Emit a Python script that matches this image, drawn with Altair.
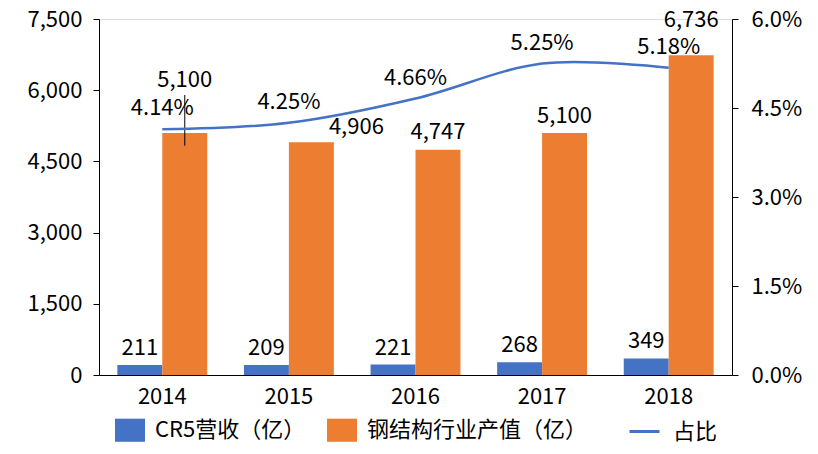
import altair as alt
import pandas as pd

years = ["2014", "2015", "2016", "2017", "2018"]
cr5 = [211, 209, 221, 268, 349]
steel = [5100, 4906, 4747, 5100, 6736]
ratio = [0.0414, 0.0425, 0.0466, 0.0525, 0.0518]

S_CR5 = "CR5营收（亿）"
S_STEEL = "钢结构行业产值（亿）"
S_RATIO = "占比"

FONT = "Noto Sans CJK SC"
FS = 22
BLUE = "#4472C4"
ORANGE = "#ED7D31"

rows = []
for y, a, b in zip(years, cr5, steel):
    rows.append({"year": y, "series": S_CR5, "value": a, "label": f"{a:,}"})
    rows.append({"year": y, "series": S_STEEL, "value": b, "label": f"{b:,}"})
bar_df = pd.DataFrame(rows)

line_df = pd.DataFrame({
    "year": years,
    "ratio": ratio,
    "label": [f"{r * 100:.2f}%" for r in ratio],
    "name": [S_RATIO] * len(years),
})

x_enc = alt.X(
    "year:N",
    sort=years,
    scale=alt.Scale(paddingInner=0.29, paddingOuter=0.145),
    axis=alt.Axis(title=None, ticks=False, labelAngle=0, domainColor="black",
                  labelPadding=11, labelFont=FONT, labelFontSize=FS, labelColor="black"),
)
xoff = alt.XOffset(
    "series:N",
    sort=[S_CR5, S_STEEL],
    scale=alt.Scale(domain=[S_CR5, S_STEEL], paddingInner=0, paddingOuter=0),
)
left_axis = alt.Axis(orient="left", title=None, values=[0, 1500, 3000, 4500, 6000, 7500],
                     labelExpr="format(datum.value, ',.0f')", grid=False, tickSize=6,
                     labelPadding=11, domainColor="black", tickColor="black",
                     labelFont=FONT, labelFontSize=FS, labelColor="black")
left_scale = alt.Scale(domain=[0, 7500], nice=False)
y_left = alt.Y("value:Q", scale=left_scale, axis=left_axis)

base = alt.Chart(bar_df)

bars = base.mark_bar().encode(
    x=x_enc,
    xOffset=xoff,
    y=y_left,
    color=alt.Color(
        "series:N",
        scale=alt.Scale(domain=[S_CR5, S_STEEL], range=[BLUE, ORANGE]),
        legend=alt.Legend(title=None, orient="none", legendX=16, legendY=396,
                          direction="horizontal", symbolType="M-1,-0.77H1V0.77H-1Z",
                          symbolSize=900, symbolStrokeWidth=0, labelOffset=10,
                          columnPadding=21, labelFont=FONT, labelFontSize=FS,
                          labelColor="black", labelLimit=400),
    ),
)

blue_text = base.transform_filter(alt.datum.series == S_CR5).mark_text(
    dy=-17, baseline="middle", font=FONT, fontSize=FS, color="black"
).encode(x=x_enc, xOffset=xoff, y=y_left, text="label:N")

# label offsets (dx, dy) for orange bar labels, as in the original layout
offsets = {"2014": (0, -53), "2015": (45, -15), "2016": (0, -18),
           "2017": (0, -17), "2018": (0, -35)}
orange_texts = []
for yr, (dx, dy) in offsets.items():
    orange_texts.append(
        base.transform_filter((alt.datum.series == S_STEEL) & (alt.datum.year == yr))
        .mark_text(dx=dx, dy=dy, baseline="middle", font=FONT, fontSize=FS, color="black")
        .encode(x=x_enc, xOffset=xoff, y=y_left, text="label:N")
    )

leader = base.transform_filter(
    (alt.datum.series == S_STEEL) & (alt.datum.year == "2014")
).transform_calculate(
    lo="datum.value - 270", hi="datum.value + 800"
).mark_rule(color="black", strokeWidth=1).encode(
    x=x_enc, xOffset=xoff,
    y=alt.Y("lo:Q", scale=left_scale, axis=left_axis),
    y2="hi:Q",
)

left = alt.layer(bars, blue_text, *orange_texts, leader)

y_right = alt.Y(
    "ratio:Q",
    scale=alt.Scale(domain=[0, 0.06], nice=False),
    axis=alt.Axis(orient="right", title=None, values=[0, 0.015, 0.03, 0.045, 0.06],
                  format=".1%", grid=False, tickSize=6, labelPadding=13,
                  domainColor="black", tickColor="black",
                  labelFont=FONT, labelFontSize=FS, labelColor="black"),
)
lbase = alt.Chart(line_df)
line = lbase.mark_line(interpolate="cardinal", strokeWidth=2.5).encode(
    x=x_enc,
    y=y_right,
    stroke=alt.Stroke(
        "name:N",
        scale=alt.Scale(domain=[S_RATIO], range=[BLUE]),
        legend=alt.Legend(title=None, orient="none", legendX=529, legendY=396,
                          direction="horizontal", symbolType="stroke",
                          symbolSize=900, symbolStrokeWidth=3, labelOffset=12,
                          labelFont=FONT, labelFontSize=FS, labelColor="black"),
    ),
)
line_text = lbase.mark_text(dy=-21, baseline="middle", font=FONT, fontSize=FS,
                            color="black").encode(x=x_enc, y=y_right, text="label:N")
right = alt.layer(line, line_text)

chart = alt.layer(left, right).resolve_scale(y="independent").properties(
    width=633,
    height=356,
    autosize=alt.AutoSizeParams(type="none"),
    padding={"left": 91, "top": 11, "right": 78, "bottom": 71},
).configure_view(stroke=None).configure(background="white")

chart.save("out.html", embed_options={"renderer": "svg", "actions": False})
